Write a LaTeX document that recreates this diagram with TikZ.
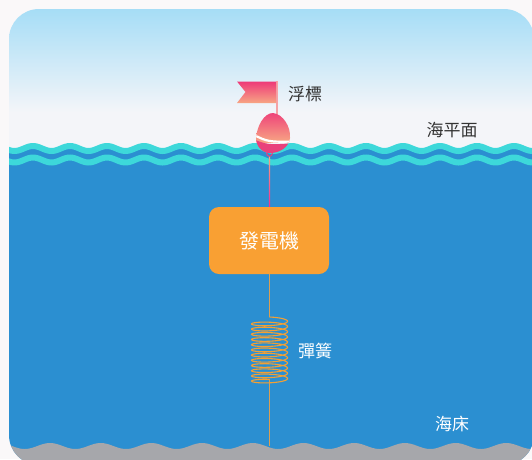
\documentclass[tikz,border=0pt]{standalone}
\usepackage{fontspec}
\newfontfamily\cjk{Noto Sans CJK TC}
\usetikzlibrary{calc}
\definecolor{outerbg}{HTML}{FAF8F9}
\definecolor{skytop}{HTML}{9FDBF6}
\definecolor{skybot}{HTML}{F4F5F9}
\definecolor{sea}{HTML}{2B8FD1}
\definecolor{wavecyan}{HTML}{3DD8DA}
\definecolor{bed}{HTML}{A6A7AB}
\definecolor{genorange}{HTML}{F9A033}
\definecolor{springc}{HTML}{F2A035}
\definecolor{tether}{HTML}{D99F55}
\definecolor{buoypink}{HTML}{EE3A78}
\definecolor{buoypeach}{HTML}{F7A584}
\definecolor{buoylow}{HTML}{E9417C}
\definecolor{polec}{HTML}{F5A3A6}
\definecolor{darktext}{HTML}{333333}
\tikzset{
  wavebar/.style={wavecyan, line width=6pt},
  label dark/.style={text=darktext, font=\cjk\fontsize{17}{17}\selectfont},
  label light/.style={text=white, font=\cjk\fontsize{17}{17}\selectfont},
  genbox/.style={fill=genorange, rounded corners=10pt, minimum width=120pt,
    minimum height=67pt, inner sep=0pt, text=white, font=\cjk\fontsize{20}{20}\selectfont},
  tetherline/.style={tether, line width=1.3pt},
}
\begin{document}
\begin{tikzpicture}[x=1pt, y=-1pt]
\useasboundingbox (0,0) rectangle (532,459);
\fill[outerbg] (0,0) rectangle (532,459);
\begin{scope}
  \clip[rounded corners=30pt] (9,9) rectangle (534,465);
  % sky
  \shade[top color=skytop, bottom color=skybot] (0,0) rectangle (540,112);
  \fill[skybot] (0,111.5) rectangle (540,170);
  % sea body with wavy surface (wavelength 37)
  \fill[sea] (0,470) -- plot[domain=0:540, samples=240, smooth]
    (\x, {148.5-2.5*cos((\x-33)*9.7297)}) -- (540,470) -- cycle;
  % two cyan wave bands
  \draw[wavebar] plot[domain=0:540, samples=240, smooth]
    (\x, {148.5-2.5*cos((\x-33)*9.7297)});
  \draw[wavebar] plot[domain=0:540, samples=240, smooth]
    (\x, {160-2.5*cos((\x-33)*9.7297)});
  % sea bed (wavelength 50.7)
  \fill[bed] (0,470) -- plot[domain=0:540, samples=240, smooth]
    (\x, {446-3*cos((\x-50)*7.1006)}) -- (540,470) -- cycle;
\end{scope}

% anchor points of the mooring line
\coordinate (ring) at (269.5,153.5);
\coordinate (springtop) at (269.5,317);
\coordinate (springbot) at (269.5,379.4);
\coordinate (floor) at (269.5,446);
\node[genbox] (gen) at (269,240.5) {發電機};

% tether from buoy to generator
\shade[top color=buoypeach, bottom color=buoypink!80!magenta]
  ($(ring)+(-0.6,3)$) rectangle ($(gen.north -| ring)+(0.6,0)$);
% tether from generator to spring and from spring to the sea bed
\draw[tetherline] (gen.south -| springtop) -- (springtop);
\draw[tetherline] (springbot) -- (floor);

% spring, twelve turns
\draw[springc, line width=1.1pt] plot[domain=0:4320, samples=700, smooth]
  ({269.5+18*sin(\x)}, {317+\x/360*5.2+3-3*cos(\x)});

% flag pole and flag
\coordinate (poletop) at (276.8,81);
\coordinate (polebot) at (276.8,116);
\draw[polec, line width=1.5pt] (poletop) -- (polebot);
\shade[top color=buoypink, bottom color=buoypeach]
  (237,81.5) -- (276,81.5) -- (276,103) -- (237,103) -- (245.5,92) -- cycle;

% buoy body
\def\egg{(273,113) .. controls (283,114) and (291,127) .. (290,138)
  .. controls (289,147) and (280,153) .. (270,153)
  .. controls (262,153) and (256,146) .. (256,138)
  .. controls (257,126) and (264,113) .. (273,113) -- cycle}
\begin{scope}
  \clip \egg;
  \shade[top color=buoypink, bottom color=buoypeach] (250,110) rectangle (295,142);
  \fill[buoylow] (250,138) .. controls (268,145) .. (295,143) -- (295,160) -- (250,160) -- cycle;
  \draw[white, line width=2.2pt] (252,134) .. controls (268,142) .. (295,141.5);
\end{scope}
\draw[buoylow, line width=1pt] (ring) circle (2.8pt);

% labels
\node[label dark] (flaglabel) at (305,94) {浮標};
\node[label dark] (sealevel) at (452,130) {海平面};
\node[label light] (springlabel) at (315,351) {彈簧};
\node[label light] (seabed) at (452,424) {海床};
\end{tikzpicture}
\end{document}
